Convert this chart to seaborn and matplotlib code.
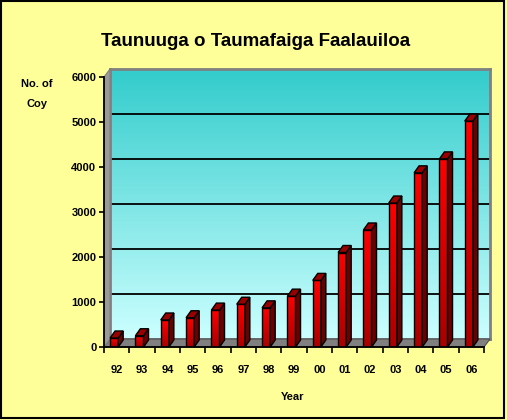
import numpy as np
import pandas as pd
import seaborn as sns
import matplotlib.pyplot as plt
from matplotlib.patches import Polygon, Rectangle
from matplotlib.transforms import IdentityTransform
from matplotlib.colors import LinearSegmentedColormap

# data
years = ['92', '93', '94', '95', '96', '97', '98', '99', '00', '01', '02', '03', '04', '05', '06']
companies = [200, 250, 600, 650, 820, 950, 870, 1130, 1480, 2100, 2600, 3200, 3870, 4180, 5020]
y_ticks = [0, 1000, 2000, 3000, 4000, 5000, 6000]

df = pd.DataFrame({'Year': years, 'Coy': companies})

sns.set_style('ticks')
plt.rcParams['font.family'] = ['Liberation Sans', 'DejaVu Sans']
plt.rcParams['font.weight'] = 'bold'
plt.rcParams['text.color'] = 'black'
plt.rcParams['xtick.color'] = 'black'
plt.rcParams['ytick.color'] = 'black'

W, H = 507, 420
fig = plt.figure(figsize=(W / 100, H / 100), dpi=100, facecolor='#FFFF99')


def fpos(x0, y_top, x1, y_bot):
    # pixel box (from top-left) -> figure fraction
    return [x0 / W, 1 - y_bot / H, (x1 - x0) / W, (y_bot - y_top) / H]


def px(x, y):
    return (x / W, 1 - y / H)


# back wall with gradient and gridlines
back = fig.add_axes(fpos(110, 69, 490, 339))
back.set_zorder(0)
grad = np.linspace(0, 1, 256).reshape(-1, 1)
wall_cmap = LinearSegmentedColormap.from_list('wall', ['#CCFFFF', '#33CCCC'])
back.imshow(grad, cmap=wall_cmap, origin='lower', aspect='auto',
            extent=(-0.5, 14.5, 0, 6000))
back.set_xlim(-0.5, 14.5)
back.set_ylim(0, 6000)
for v in y_ticks[1:-1]:
    back.axhline(v, color='black', lw=1.3)
back.set_xticks([])
back.set_yticks([])
for s in back.spines.values():
    s.set_color('#808080')
    s.set_linewidth(2)

# floor and left side wall
floor = Polygon([px(104, 347), px(484, 347), px(490, 339), px(110, 339)],
                closed=True, transform=fig.transFigure, facecolor='#808080',
                edgecolor='#505050', lw=0.8, zorder=0.5)
side_wall = Polygon([px(104, 347), px(110, 339), px(110, 69), px(104, 77)],
                    closed=True, transform=fig.transFigure, facecolor='#9a9a9a',
                    edgecolor='#808080', lw=0.8, zorder=0.5)
fig.patches.extend([floor, side_wall])

# front axes with the bars
ax = fig.add_axes(fpos(104, 77, 484, 347))
ax.set_zorder(1)
ax.set_facecolor('none')
sns.barplot(data=df, x='Year', y='Coy', color='#FF0000', saturation=1,
            width=0.32, edgecolor='black', linewidth=1.0, ax=ax)
ax.set_xlim(-0.5, 14.5)
ax.set_ylim(0, 6000)

bar_cmap = LinearSegmentedColormap.from_list('bar', ['#A80000', '#FF0000'])
dx, dy = 5, 7
for p in list(ax.patches):
    p.set_x(p.get_x() - 0.1)
    x0, w, h = p.get_x(), p.get_width(), p.get_height()
    im = ax.imshow(grad, cmap=bar_cmap, origin='lower', aspect='auto',
                   extent=(x0, x0 + w, 0, h), zorder=p.get_zorder() + 0.1)
    im.set_clip_path(p)
    p.set_zorder(p.get_zorder() + 0.2)
    p.set_facecolor('none')
    (ax0, ay0), (ax1, ay1) = ax.transData.transform([(x0, 0), (x0 + w, h)])
    side = [(ax1, ay0), (ax1 + dx, ay0 + dy), (ax1 + dx, ay1 + dy), (ax1, ay1)]
    top = [(ax0, ay1), (ax1, ay1), (ax1 + dx, ay1 + dy), (ax0 + dx, ay1 + dy)]
    ax.add_patch(Polygon(side, closed=True, transform=IdentityTransform(),
                         facecolor='#6A0000', edgecolor='black', lw=1.0,
                         clip_on=False, zorder=3))
    ax.add_patch(Polygon(top, closed=True, transform=IdentityTransform(),
                         facecolor='#990000', edgecolor='black', lw=1.0,
                         clip_on=False, zorder=3))
ax.set_xlim(-0.5, 14.5)
ax.set_ylim(0, 6000)

# axes styling
for s in ['top', 'right']:
    ax.spines[s].set_visible(False)
for s in ['left', 'bottom']:
    ax.spines[s].set_color('black')
    ax.spines[s].set_linewidth(1.3)
ax.set_yticks(y_ticks)
ax.set_yticklabels([str(v) for v in y_ticks], fontsize=8, fontweight='bold')
ax.set_xticks(range(len(years)))
ax.set_xticklabels(years, fontsize=8, fontweight='bold')
ax.set_xticks(np.arange(-0.5, len(years), 1), minor=True)
ax.tick_params(axis='x', which='major', length=0, pad=13)
ax.tick_params(axis='x', which='minor', length=4, width=1.2, color='black', direction='out')
ax.tick_params(axis='y', length=3.5, width=1.2, color='black', direction='out', pad=2)
ax.set_xlabel('')
ax.set_ylabel('')

# texts
fig.text(256 / W, 1 - 42 / H, 'Taunuuga o Taumafaiga Faalauiloa',
         ha='center', va='center', fontsize=13.5, fontweight='bold')
fig.text(37 / W, 1 - 84 / H, 'No. of', ha='center', va='center',
         fontsize=8, fontweight='bold')
fig.text(37 / W, 1 - 104 / H, 'Coy', ha='center', va='center',
         fontsize=8, fontweight='bold')
fig.text(293 / W, 1 - 397 / H, 'Year', ha='center', va='center',
         fontsize=8, fontweight='bold')

# outer border
fig.patches.append(Rectangle((0.002, 0.005), 0.993, 0.993, transform=fig.transFigure,
                             fill=False, edgecolor='black', lw=1.5, zorder=10))

fig.savefig('out.png', dpi=100, facecolor=fig.get_facecolor())
